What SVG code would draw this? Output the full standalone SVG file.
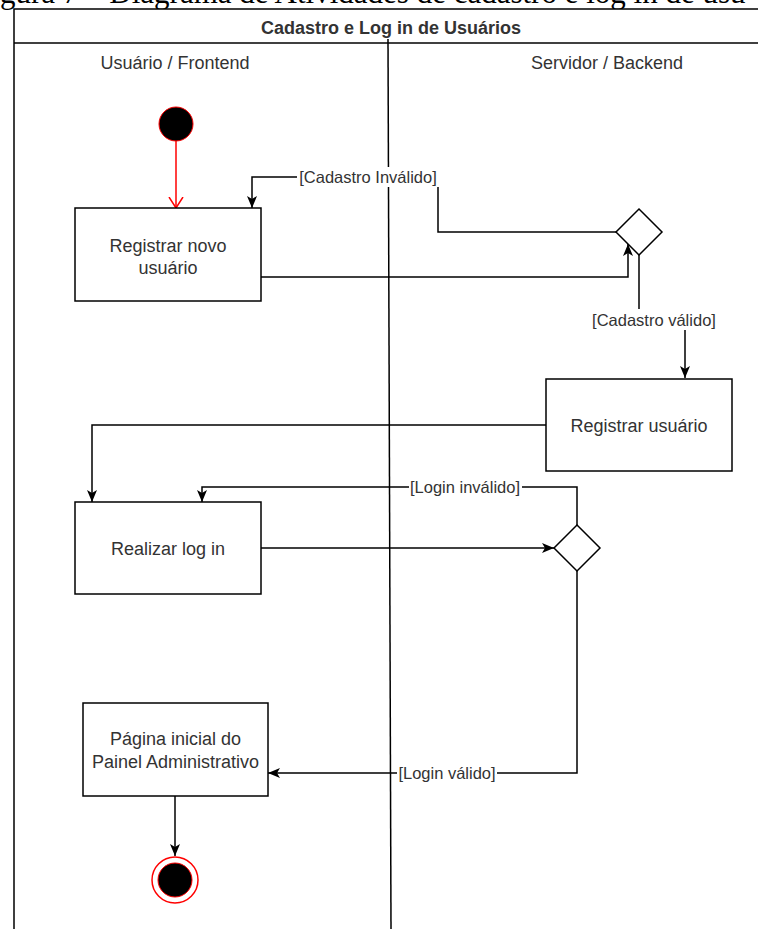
<svg xmlns="http://www.w3.org/2000/svg" width="758" height="929" viewBox="0 0 758 929">
<style>
.box{fill:#fff;stroke:#000;stroke-width:1.5}
.lbl{font-family:"Liberation Sans",Arial,sans-serif;font-size:18px;fill:#333;text-anchor:middle}
.elbl{font-family:"Liberation Sans",Arial,sans-serif;font-size:16.5px;fill:#333;text-anchor:middle}
.edge{fill:none;stroke:#000;stroke-width:1.5}
.lbg{fill:#fff;stroke:none}
</style>
<defs>
<marker id="arr" markerUnits="userSpaceOnUse" viewBox="0 0 12 10" refX="12" refY="5" markerWidth="12" markerHeight="10" orient="auto">
<path d="M0,0 L12,5 L0,10 L3,5 Z" fill="#000"/>
</marker>
<marker id="open" markerUnits="userSpaceOnUse" viewBox="0 0 12 16" refX="11" refY="8" markerWidth="12" markerHeight="16" orient="auto">
<path d="M0,1 L11,8 L0,15" fill="none" stroke="#f00" stroke-width="1.5"/>
</marker>
</defs>
<rect width="758" height="929" fill="#fff"/>
<text x="0" y="2.5" font-family="'Liberation Serif','Times New Roman',serif" font-size="31" fill="#000">gura 7 – Diagrama de Atividades de cadastro e log in de usu</text>
<g id="pool">
<rect x="14" y="9" width="800" height="960" fill="#fff" stroke="#000" stroke-width="1.5"/>
<line x1="14" y1="43" x2="814" y2="43" stroke="#000" stroke-width="1.5"/>
<text x="391" y="33.5" class="lbl" font-weight="bold">Cadastro e Log in de Usuários</text>
<line x1="388" y1="39" x2="391" y2="929" stroke="#000" stroke-width="1.5"/>
<text x="175" y="68.5" class="lbl">Usuário / Frontend</text>
<text x="607" y="68.5" class="lbl">Servidor / Backend</text>
</g>
<g id="connectors">
<path class="edge" d="M176,141 L176,208" stroke="#f00" style="stroke:#f00" marker-end="url(#open)"/>
<path class="edge" d="M616,232 L438,232 L438,177 L252,177 L252,208" marker-end="url(#arr)"/>
<rect class="lbg" x="297" y="167" width="143" height="20"/>
<text x="368" y="182.5" class="elbl">[Cadastro Inválido]</text>
<path class="edge" d="M261,277 L628,277 L628,244" marker-end="url(#arr)"/>
<path class="edge" d="M639,255 L639,320 L685,320 L685,378" marker-end="url(#arr)"/>
<rect class="lbg" x="589" y="309" width="130" height="21"/>
<text x="654" y="325.5" class="elbl">[Cadastro válido]</text>
<path class="edge" d="M546,425 L92,425 L92,502" marker-end="url(#arr)"/>
<path class="edge" d="M577,525 L577,487 L202,487 L202,502" marker-end="url(#arr)"/>
<rect class="lbg" x="409" y="477" width="113" height="20"/>
<text x="465" y="492.5" class="elbl">[Login inválido]</text>
<path class="edge" d="M261,548 L554,548" marker-end="url(#arr)"/>
<path class="edge" d="M577,571 L577,773 L268,773" marker-end="url(#arr)"/>
<rect class="lbg" x="397" y="763" width="100" height="20"/>
<text x="447" y="778.5" class="elbl">[Login válido]</text>
<path class="edge" d="M175,796 L175,856" marker-end="url(#arr)"/>
</g>
<g id="start">
<circle cx="176" cy="124" r="17" fill="#000" stroke="#f00" stroke-width="1"/>
</g>
<g id="registrar-novo">
<rect class="box" x="75" y="208" width="186" height="93"/>
<text x="168" y="251.5" class="lbl">Registrar novo</text>
<text x="168" y="273.5" class="lbl">usuário</text>
</g>
<g id="decisao-cadastro">
<polygon points="639,209 662,232 639,255 616,232" class="box"/>
</g>
<g id="registrar-usuario">
<rect class="box" x="546" y="379" width="186" height="92"/>
<text x="639" y="431.5" class="lbl">Registrar usuário</text>
</g>
<g id="realizar-login">
<rect class="box" x="75" y="502" width="186" height="92"/>
<text x="168" y="554.5" class="lbl">Realizar log in</text>
</g>
<g id="decisao-login">
<polygon points="577,525 600,548 577,571 554,548" class="box"/>
</g>
<g id="pagina-inicial">
<rect class="box" x="83" y="703" width="185" height="93"/>
<text x="175.5" y="744.5" class="lbl">Página inicial do</text>
<text x="175.5" y="767.5" class="lbl">Painel Administrativo</text>
</g>
<g id="end">
<circle cx="175" cy="880" r="23" fill="#fff" stroke="#f00" stroke-width="1.5"/>
<circle cx="175" cy="880" r="17" fill="#000" stroke="#f00" stroke-width="1"/>
</g>
</svg>
